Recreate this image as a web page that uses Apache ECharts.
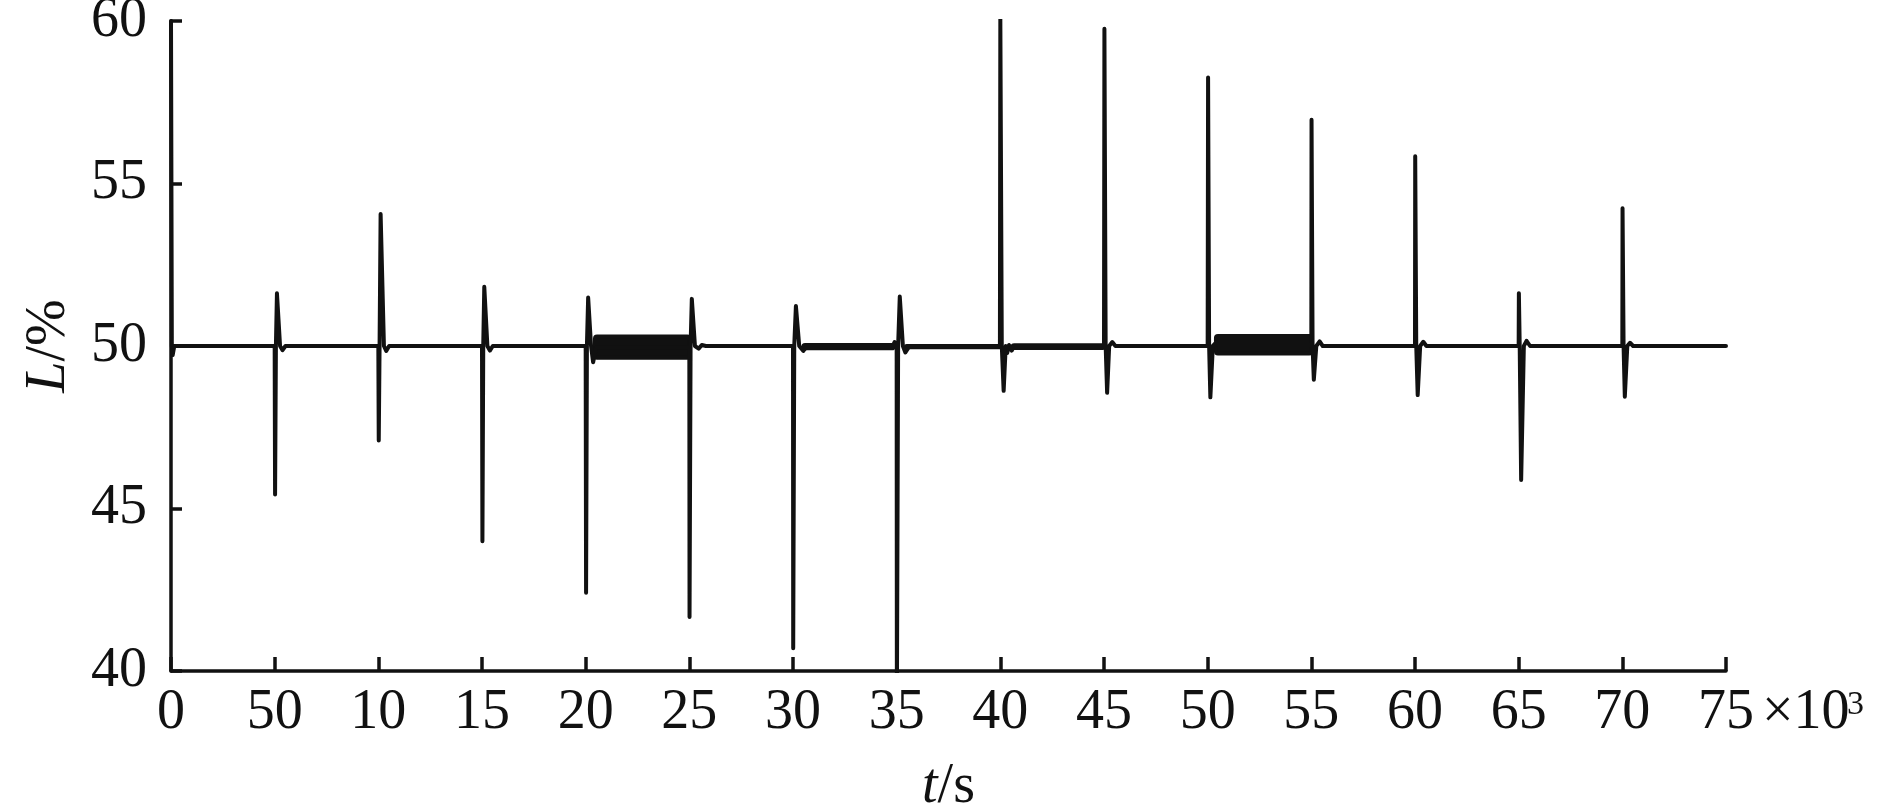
<!DOCTYPE html>
<html>
<head>
<meta charset="utf-8">
<style>
  html, body { margin: 0; padding: 0; background: #fff; }
  #myChart { width: 1890px; height: 808px; }
</style>
<script src="https://cdn.jsdelivr.net/npm/echarts@6/dist/echarts.min.js"></script>
</head>
<body>
<div id="myChart"></div>
<script>
// t in 10^3 s, L in %
const levelLine = [
  [0, 60.0], [0.04, 50.0], [0.08, 49.72], [0.16, 50.0],
  [5.0, 50.0], [5.02, 45.43], [5.06, 50.0], [5.11, 51.62], [5.26, 50.0], [5.38, 49.87], [5.52, 50.0],
  [10.0, 50.0], [10.02, 47.09], [10.06, 50.0], [10.11, 54.06], [10.27, 50.0], [10.38, 49.85], [10.52, 50.0],
  [15.0, 50.0], [15.02, 43.99], [15.06, 50.0], [15.11, 51.82], [15.26, 50.0], [15.38, 49.86], [15.52, 50.0],
  [20.0, 50.0], [20.02, 42.41], [20.06, 50.0], [20.12, 51.49], [20.26, 50.0], [20.36, 49.5], [20.5, 49.95],
  [25.0, 49.95], [25.01, 41.66], [25.06, 50.0], [25.12, 51.45], [25.27, 50.0], [25.45, 49.92], [25.6, 50.03], [25.8, 50.0],
  [30.0, 50.0], [30.01, 40.7], [30.06, 50.0], [30.14, 51.23], [30.3, 50.0], [30.5, 49.85], [30.65, 49.97],
  [34.8, 49.98], [34.9, 50.12], [35.0, 50.0], [35.01, 39.0], [35.07, 50.0], [35.15, 51.52], [35.3, 50.0], [35.42, 49.8], [35.6, 49.98],
  [39.98, 49.98], [40.0, 60.06], [40.07, 50.0], [40.16, 48.62], [40.26, 50.0], [40.33, 49.78], [40.42, 50.03], [40.55, 49.86], [40.65, 49.98],
  [45.0, 49.98], [45.02, 59.76], [45.08, 50.0], [45.15, 48.56], [45.25, 50.0], [45.4, 50.12], [45.55, 50.0],
  [50.0, 50.0], [50.02, 58.26], [50.07, 50.0], [50.13, 48.42], [50.25, 50.0], [50.4, 50.1], [50.5, 50.03],
  [55.0, 50.03], [55.01, 56.96], [55.06, 50.0], [55.12, 48.96], [55.24, 50.0], [55.4, 50.14], [55.55, 50.0],
  [60.0, 50.0], [60.01, 55.84], [60.06, 50.0], [60.13, 48.49], [60.25, 50.0], [60.4, 50.13], [60.55, 50.0],
  [65.0, 50.0], [65.01, 51.62], [65.05, 50.0], [65.12, 45.88], [65.25, 50.0], [65.38, 50.16], [65.55, 50.0],
  [70.0, 50.0], [70.01, 54.24], [70.06, 50.0], [70.12, 48.44], [70.24, 50.0], [70.37, 50.1], [70.52, 50.0],
  [75.0, 50.0]
]

// fast oscillation bands: [t start, t end, low, high]
const oscBands = [
  [20.45, 25.0, 49.64, 50.29],
  [30.5, 34.85, 49.93, 50.03],
  [35.45, 40.0, 49.96, 50.0],
  [40.6, 45.0, 49.94, 50.02],
  [50.4, 55.0, 49.77, 50.31]
]

const xTickLabels = ['0', '50', '10', '15', '20', '25', '30', '35', '40', '45', '50', '55', '60', '65', '70', '75']
const yTickLabels = ['40', '45', '50', '55', '60']

const serif = "'Liberation Serif', 'Times New Roman', serif"
const ink = '#111'

const myChartInstance = echarts.init(document.getElementById('myChart'), null, { renderer: 'canvas' })

const option = {
  animation: false,
  backgroundColor: '#fff',
  grid: { left: 171, right: 164, top: 21, bottom: 137, containLabel: false, outerBoundsMode: 'none' },
  xAxis: {
    type: 'value',
    min: 0,
    max: 75,
    interval: 5,
    name: '{i|t}/s',
    nameLocation: 'middle',
    nameGap: 88,
    nameTextStyle: {
      fontFamily: serif, fontSize: 56, color: ink,
      rich: { i: { fontFamily: serif, fontSize: 56, fontStyle: 'italic', color: ink } }
    },
    splitLine: { show: false },
    axisLine: { lineStyle: { color: ink, width: 3.5 } },
    axisTick: { inside: true, length: 14, lineStyle: { color: ink, width: 3.5 } },
    axisLabel: {
      margin: 14,
      fontFamily: serif, fontSize: 56, color: ink,
      showMinLabel: true, showMaxLabel: true,
      formatter: function (v) {
        return xTickLabels[Math.round(v / 5)]
      }
    }
  },
  yAxis: {
    type: 'value',
    min: 40,
    max: 60,
    interval: 5,
    name: '{i|L}/%',
    nameLocation: 'middle',
    nameGap: 94,
    nameTextStyle: {
      fontFamily: serif, fontSize: 56, color: ink,
      rich: { i: { fontFamily: serif, fontSize: 56, fontStyle: 'italic', color: ink } }
    },
    splitLine: { show: false },
    axisLine: { lineStyle: { color: ink, width: 3.5 } },
    axisTick: { inside: true, length: 11, lineStyle: { color: ink, width: 3.5 } },
    axisLabel: {
      margin: 24,
      fontFamily: serif, fontSize: 56, color: ink,
      formatter: function (v) {
        return yTickLabels[Math.round((v - 40) / 5)]
      }
    }
  },
  series: [
    {
      type: 'custom',
      data: oscBands,
      clip: true,
      renderItem: function (params, api) {
        const p0 = api.coord([api.value(0), api.value(3)])
        const p1 = api.coord([api.value(1), api.value(2)])
        return {
          type: 'rect',
          shape: { x: p0[0], y: p0[1], width: p1[0] - p0[0], height: p1[1] - p0[1], r: 2 },
          style: { fill: ink, stroke: ink, lineWidth: 4, lineJoin: 'round' }
        }
      }
    },
    {
      type: 'line',
      data: levelLine,
      showSymbol: false,
      symbol: 'none',
      clip: true,
      lineStyle: { color: ink, width: 4, join: 'round', cap: 'round' }
    }
  ],
  graphic: [
    {
      type: 'text',
      x: 1762,
      y: 685,
      style: { text: '×10', font: '56px ' + serif, fill: ink, align: 'left', verticalAlign: 'top' }
    },
    {
      type: 'text',
      x: 1847,
      y: 688,
      style: { text: '3', font: '34px ' + serif, fill: ink, align: 'left', verticalAlign: 'top' }
    }
  ]
}

myChartInstance.setOption(option)
window.addEventListener('resize', function () {
  myChartInstance.resize()
})
</script>
</body>
</html>
